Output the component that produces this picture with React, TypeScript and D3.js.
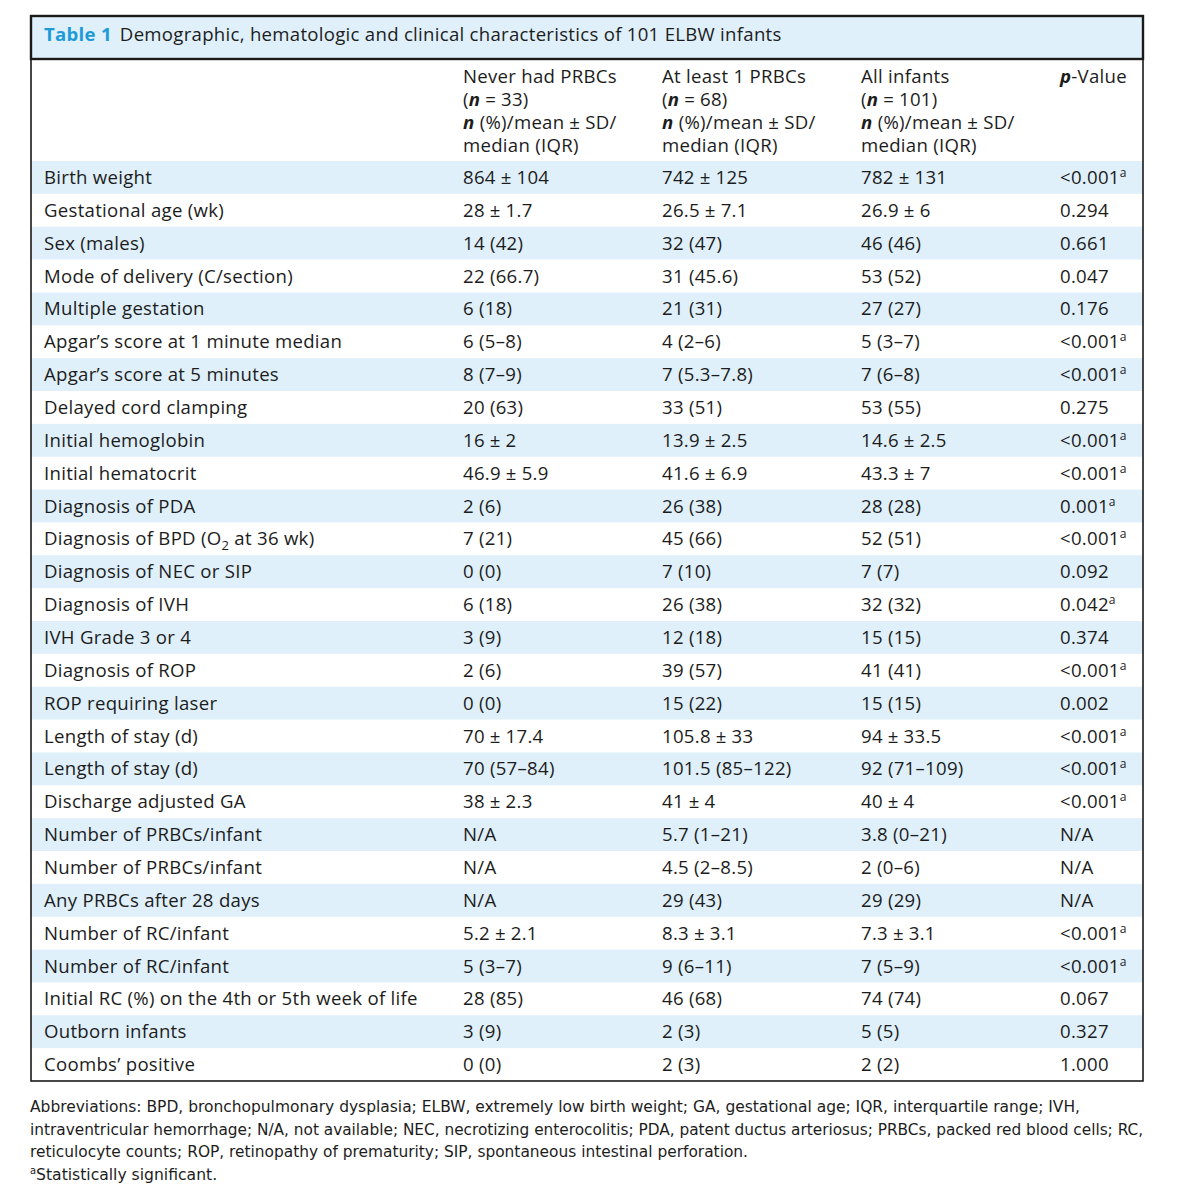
import React from "react";
import * as d3 from "d3";

const titleLabel = "Table 1";
const titleText = "Demographic, hematologic and clinical characteristics of 101 ELBW infants";

const groupNames = ["Never had PRBCs", "At least 1 PRBCs", "All infants"];
const groupN = ["33", "68", "101"];

const rowLabels = [
  "Birth weight",
  "Gestational age (wk)",
  "Sex (males)",
  "Mode of delivery (C/section)",
  "Multiple gestation",
  "Apgar\u2019s score at 1 minute median",
  "Apgar\u2019s score at 5 minutes",
  "Delayed cord clamping",
  "Initial hemoglobin",
  "Initial hematocrit",
  "Diagnosis of PDA",
  "Diagnosis of BPD (O2 at 36 wk)",
  "Diagnosis of NEC or SIP",
  "Diagnosis of IVH",
  "IVH Grade 3 or 4",
  "Diagnosis of ROP",
  "ROP requiring laser",
  "Length of stay (d)",
  "Length of stay (d)",
  "Discharge adjusted GA",
  "Number of PRBCs/infant",
  "Number of PRBCs/infant",
  "Any PRBCs after 28 days",
  "Number of RC/infant",
  "Number of RC/infant",
  "Initial RC (%) on the 4th or 5th week of life",
  "Outborn infants",
  "Coombs\u2019 positive",
];

const neverHad = [
  "864 ± 104", "28 ± 1.7", "14 (42)", "22 (66.7)", "6 (18)", "6 (5–8)", "8 (7–9)", "20 (63)",
  "16 ± 2", "46.9 ± 5.9", "2 (6)", "7 (21)", "0 (0)", "6 (18)", "3 (9)", "2 (6)", "0 (0)",
  "70 ± 17.4", "70 (57–84)", "38 ± 2.3", "N/A", "N/A", "N/A", "5.2 ± 2.1", "5 (3–7)",
  "28 (85)", "3 (9)", "0 (0)",
];

const atLeastOne = [
  "742 ± 125", "26.5 ± 7.1", "32 (47)", "31 (45.6)", "21 (31)", "4 (2–6)", "7 (5.3–7.8)", "33 (51)",
  "13.9 ± 2.5", "41.6 ± 6.9", "26 (38)", "45 (66)", "7 (10)", "26 (38)", "12 (18)", "39 (57)", "15 (22)",
  "105.8 ± 33", "101.5 (85–122)", "41 ± 4", "5.7 (1–21)", "4.5 (2–8.5)", "29 (43)", "8.3 ± 3.1", "9 (6–11)",
  "46 (68)", "2 (3)", "2 (3)",
];

const allInfants = [
  "782 ± 131", "26.9 ± 6", "46 (46)", "53 (52)", "27 (27)", "5 (3–7)", "7 (6–8)", "53 (55)",
  "14.6 ± 2.5", "43.3 ± 7", "28 (28)", "52 (51)", "7 (7)", "32 (32)", "15 (15)", "41 (41)", "15 (15)",
  "94 ± 33.5", "92 (71–109)", "40 ± 4", "3.8 (0–21)", "2 (0–6)", "29 (29)", "7.3 ± 3.1", "7 (5–9)",
  "74 (74)", "5 (5)", "2 (2)",
];

const pValues = [
  "<0.001", "0.294", "0.661", "0.047", "0.176", "<0.001", "<0.001", "0.275",
  "<0.001", "<0.001", "0.001", "<0.001", "0.092", "0.042", "0.374", "<0.001", "0.002",
  "<0.001", "<0.001", "<0.001", "N/A", "N/A", "N/A", "<0.001", "<0.001",
  "0.067", "0.327", "1.000",
];

const significant = [
  true, false, false, false, false, true, true, false,
  true, true, true, true, false, true, false, true, false,
  true, true, true, false, false, false, true, true,
  false, false, false,
];

const footnoteLines = [
  "Abbreviations: BPD, bronchopulmonary dysplasia; ELBW, extremely low birth weight; GA, gestational age; IQR, interquartile range; IVH,",
  "intraventricular hemorrhage; N/A, not available; NEC, necrotizing enterocolitis; PDA, patent ductus arteriosus; PRBCs, packed red blood cells; RC,",
  "reticulocyte counts; ROP, retinopathy of prematurity; SIP, spontaneous intestinal perforation.",
];
const footnoteSig = "Statistically significant.";

const FONT = "'Open Sans', 'Noto Sans', sans-serif";
const TEXT = "#1c1c1c";
const BAND = "#dff0fb";
const BLUE = "#1e9bd7";

const W = 1192;
const H = 1200;
const boxL = 31;
const boxR = 1143;
const boxTop = 16;
const titleBottom = 59;
const rowsTop = 161;
const rowsBottom = 1081;
const FS = 18.6;
const LS = 0.28;

const colKeys = ["label", "never", "atleast", "all", "p"];
const colX = d3.scaleOrdinal<string, number>().domain(colKeys).range([44, 463, 662, 861, 1060]);

const rowY = d3
  .scaleBand<number>()
  .domain(d3.range(rowLabels.length))
  .range([rowsTop, rowsBottom])
  .paddingInner(0);

const fmt = (s: string) => s.replace(/ ± /g, "\u2005±\u2005");

function Label({ text }: { text: string }) {
  if (text.includes("O2")) {
    const [a, b] = text.split("O2");
    return (
      <>
        {a}O<tspan dy={5} fontSize={FS * 0.7}>2</tspan>
        <tspan dy={-5}>{b}</tspan>
      </>
    );
  }
  return <>{text}</>;
}

export default function App() {
  const lineH = 23;
  const headBase = 83;
  const footX = 30;
  const footW = [1050, 1113, 718];
  return (
    <svg width={W} height={H} style={{ display: "block", position: "absolute", left: 0, top: 0 }} fontFamily={FONT}>
      <rect x={0} y={0} width={W} height={H} fill="#fff" />
      {/* title band */}
      <rect x={boxL} y={boxTop} width={boxR - boxL} height={titleBottom - boxTop} fill={BAND} />
      {/* row bands */}
      {rowLabels.map((_, i) =>
        i % 2 === 0 ? (
          <rect key={i} x={boxL} y={rowY(i)!} width={boxR - boxL} height={rowY.bandwidth()} fill={BAND} />
        ) : null
      )}
      {/* borders */}
      <rect x={boxL} y={boxTop} width={boxR - boxL} height={rowsBottom - boxTop} fill="none" stroke="#1a1a1a" strokeWidth={1.6} />
      <rect x={boxL} y={boxTop} width={boxR - boxL} height={titleBottom - boxTop} fill="none" stroke="#1a1a1a" strokeWidth={2.4} />

      <g letterSpacing={LS}>
        {/* title */}
        <text x={44} y={41} fontSize={FS} fill={TEXT}>
          <tspan fontWeight="bold" fill={BLUE}>{titleLabel}</tspan>
          <tspan dx={8}>{titleText}</tspan>
        </text>

        {/* header */}
        {groupNames.map((g, i) => {
          const x = colX(colKeys[i + 1]);
          return (
            <g key={g} fontSize={FS} fill={TEXT}>
              <text x={x} y={headBase}>{g}</text>
              <text x={x} y={headBase + lineH}>
                (<tspan fontWeight="bold" fontStyle="italic">n</tspan>{"\u2005=\u2005" + groupN[i] + ")"}
              </text>
              <text x={x} y={headBase + 2 * lineH}>
                <tspan fontWeight="bold" fontStyle="italic">n</tspan>{" (%)/mean\u2005±\u2005SD/"}
              </text>
              <text x={x} y={headBase + 3 * lineH}>median (IQR)</text>
            </g>
          );
        })}
        <text x={colX("p")} y={headBase} fontSize={FS} fill={TEXT}>
          <tspan fontWeight="bold" fontStyle="italic">p</tspan>-Value
        </text>

        {/* rows */}
        {rowLabels.map((lab, i) => {
          const y = rowY(i)! + rowY.bandwidth() / 2 + 6.5;
          return (
            <g key={i} fontSize={FS} fill={TEXT}>
              <text x={colX("label")} y={y}><Label text={lab} /></text>
              <text x={colX("never")} y={y}>{fmt(neverHad[i])}</text>
              <text x={colX("atleast")} y={y}>{fmt(atLeastOne[i])}</text>
              <text x={colX("all")} y={y}>{fmt(allInfants[i])}</text>
              <text x={colX("p")} y={y}>
                {pValues[i]}
                {significant[i] ? <tspan dy={-7} fontSize={FS * 0.65}>a</tspan> : null}
              </text>
            </g>
          );
        })}
      </g>

      {/* footnotes */}
      {footnoteLines.map((l, i) => (
        <text key={i} x={footX} y={1112 + i * 22.7} fontSize={16} fill={TEXT} fontFamily="'DejaVu Sans Condensed', 'Liberation Sans Narrow', sans-serif" textLength={footW[i]} lengthAdjust="spacingAndGlyphs">
          {l}
        </text>
      ))}
      <text x={footX} y={1112 + 3 * 22.7} fontSize={16} fill={TEXT} fontFamily="'DejaVu Sans Condensed', 'Liberation Sans Narrow', sans-serif">
        <tspan fontSize={11} dy={-6}>a</tspan>
        <tspan dy={6} textLength={181} lengthAdjust="spacingAndGlyphs">{footnoteSig}</tspan>
      </text>
    </svg>
  );
}
